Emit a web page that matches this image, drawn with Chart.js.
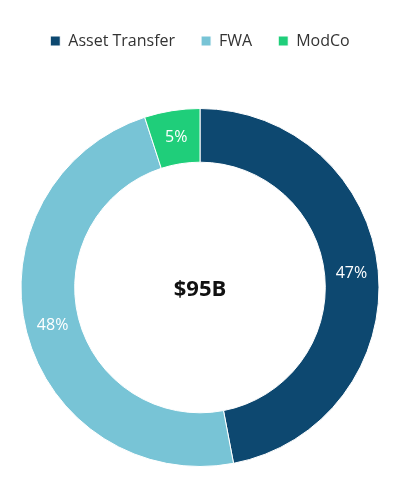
<!DOCTYPE html>
<html>
<head>
<meta charset="utf-8">
<script src="https://cdn.jsdelivr.net/npm/chart.js@4"></script>
<style>
  html, body { margin: 0; padding: 0; background: #fff; }
  #wrap { width: 400px; height: 500px; }
</style>
</head>
<body>
<div id="wrap"><canvas id="myChart"></canvas></div>
<script>
var labels = ["Asset Transfer", "FWA", "ModCo"];
var shares = [47, 48, 5];
var colors = ["#0d4870", "#78c4d6", "#1fce7a"];
var centerText = "$95B";

// draws the % inside each slice and the total in the hole
var sliceText = {
	id: 'sliceText',
	afterDatasetsDraw: function(chart) {
		var ctx = chart.ctx;
		var meta = chart.getDatasetMeta(0);
		ctx.save();
		ctx.textAlign = 'center';
		ctx.textBaseline = 'middle';
		ctx.fillStyle = '#fff';
		ctx.font = '16px "Open Sans"';
		meta.data.forEach(function(arc, i) {
			var p = arc.tooltipPosition();
			ctx.fillText(shares[i] + '%', p.x, p.y);
		});
		var c = meta.data[0];
		ctx.fillStyle = '#111';
		ctx.font = 'bold 22px "Open Sans"';
		ctx.fillText(centerText, c.x, c.y + 2);
		ctx.restore();
	}
};

// extra space under the legend
var legendGap = {
	id: 'legendGap',
	beforeInit: function(chart) {
		var fit = chart.legend.fit;
		chart.legend.fit = function() {
			fit.bind(chart.legend)();
			this.height += 49;
		};
	}
};

var ctx = document.getElementById("myChart");
var myChart = new Chart(ctx, {
	type: 'doughnut',
	data: {
		labels: labels,
		datasets: [{
			data: shares,
			backgroundColor: colors,
			borderColor: '#fff',
			borderWidth: 1
		}]
	},
	options: {
		responsive: true,
		maintainAspectRatio: false,
		animation: false,
		cutout: '70%',
		layout: { padding: { left: 20, right: 20, top: 7, bottom: 33 } },
		plugins: {
			legend: {
				position: 'top',
				labels: {
					boxWidth: 10,
					boxHeight: 10,
					padding: 26,
					color: '#333',
					font: { family: '"Open Sans"', size: 16 }
				}
			},
			tooltip: { enabled: false }
		}
	},
	plugins: [sliceText, legendGap]
});
</script>
</body>
</html>
